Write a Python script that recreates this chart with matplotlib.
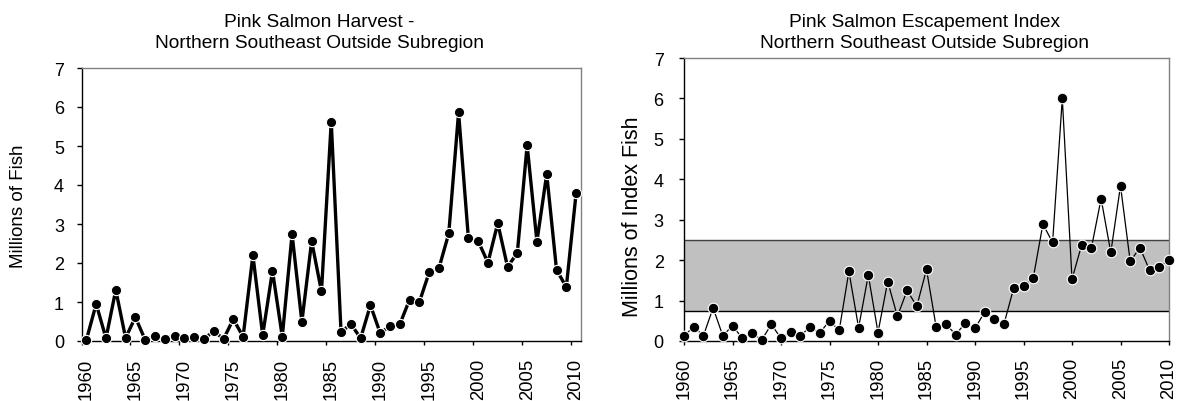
import matplotlib
matplotlib.use('Agg')
import matplotlib.pyplot as plt
from matplotlib.ticker import FixedLocator

plt.rcParams['font.family'] = ['Liberation Sans', 'DejaVu Sans']

# ---------------- data ----------------
years = list(range(1960, 2011))
harvest = [0.03, 0.95, 0.07, 1.31, 0.08, 0.61, 0.03, 0.12, 0.05, 0.14,
           0.07, 0.09, 0.04, 0.26, 0.05, 0.56, 0.11, 2.20, 0.15, 1.80,
           0.11, 2.74, 0.49, 2.56, 1.27, 5.62, 0.22, 0.44, 0.07, 0.92,
           0.20, 0.38, 0.43, 1.06, 1.00, 1.76, 1.87, 2.76, 5.86, 2.64,
           2.56, 2.01, 3.02, 1.90, 2.26, 5.02, 2.55, 4.28, 1.83, 1.38,
           3.79]
escapement = [0.13, 0.35, 0.13, 0.82, 0.13, 0.38, 0.07, 0.20, 0.02, 0.41,
              0.07, 0.23, 0.13, 0.35, 0.20, 0.50, 0.26, 1.72, 0.33, 1.63,
              0.21, 1.47, 0.61, 1.25, 0.86, 1.77, 0.34, 0.42, 0.16, 0.44,
              0.31, 0.72, 0.54, 0.43, 1.32, 1.36, 1.55, 2.89, 2.44, 6.00,
              1.53, 2.38, 2.30, 3.52, 2.19, 3.84, 1.97, 2.31, 1.75, 1.83,
              2.01]
goal_low = 0.75
goal_high = 2.5
year_ticks = list(range(1960, 2011, 5))
year_labels = [str(y) for y in year_ticks]
y_ticks = list(range(0, 8))

title_left = ["Pink Salmon Harvest -", "Northern Southeast Outside Subregion"]
title_right = ["Pink Salmon Escapement Index", "Northern Southeast Outside Subregion"]

W, H = 1181, 402
fig = plt.figure(figsize=(W / 100, H / 100), dpi=100)

def px_rect(x0, y0, x1, y1):
    return [x0 / W, 1 - y1 / H, (x1 - x0) / W, (y1 - y0) / H]

ax1 = fig.add_axes(px_rect(81.5, 69, 581, 342))
ax2 = fig.add_axes(px_rect(684, 59, 1169, 342))

xtick_fs = 13.3
ytick_fs = 13
title_fs = 13.8

for ax in (ax1, ax2):
    ax.set_ylim(0, 7)
    ax.set_yticks(y_ticks)
    ax.spines['left'].set_color('black')
    ax.spines['bottom'].set_color('black')
    ax.spines['top'].set_color('#808080')
    ax.spines['right'].set_color('#808080')
    for s in ax.spines.values():
        s.set_linewidth(1.0)
    ax.tick_params(axis='y', direction='out', length=3.6, width=1,
                   labelsize=ytick_fs, pad=9.0, colors='black')

# ---------- left: harvest ----------
ax1.plot(years, harvest, color='black', lw=2.4, marker='o', ms=7.4,
         mfc='black', mec='white', mew=0.8, clip_on=False, zorder=3)
ax1.set_xlim(1959.5, 2010.5)
ax1.set_xticks(year_ticks)
ax1.set_xticklabels(year_labels, rotation=90)
ax1.xaxis.set_minor_locator(FixedLocator([y - 0.5 for y in year_ticks]))
ax1.tick_params(axis='x', which='major', length=0, labelsize=xtick_fs, pad=12)
ax1.tick_params(axis='x', which='minor', direction='out', length=2.9, width=1)
ax1.set_ylabel("Millions of Fish", fontsize=13.5)
ax1.yaxis.label.set_va('center')
ax1.yaxis.label.set_ha('center')
ax1.yaxis.set_label_coords(-0.127, 0.498)

# ---------- right: escapement ----------
ax2.axhspan(goal_low, goal_high, facecolor='#C0C0C0', edgecolor='none', zorder=1)
ax2.axhline(goal_low, color='black', lw=1.0, zorder=2)
ax2.axhline(goal_high, color='#404040', lw=1.0, zorder=2)
ax2.plot(years, escapement, color='black', lw=0.9, marker='o', ms=7.6,
         mfc='black', mec='white', mew=0.8, clip_on=False, zorder=3)
ax2.set_xlim(1960, 2010)
ax2.set_xticks(year_ticks)
ax2.set_xticklabels(year_labels, rotation=90)
ax2.tick_params(axis='x', direction='out', length=2.9, width=1,
                labelsize=xtick_fs, pad=8.6)
ax2.tick_params(axis='y', pad=11.0)
ax2.set_ylabel("Millions of Index Fish", fontsize=15.5)
ax2.yaxis.label.set_va('center')
ax2.yaxis.label.set_ha('center')
ax2.yaxis.set_label_coords(-0.107, 0.442)

# ---------- titles ----------
for (cx, lines) in ((319, title_left), (924.5, title_right)):
    fig.text(cx / W, 1 - 27 / H, lines[0], ha='center', va='baseline',
             fontsize=title_fs)
    fig.text(cx / W, 1 - 47.7 / H, lines[1], ha='center', va='baseline',
             fontsize=title_fs)

fig.savefig('out.png', dpi=100)
